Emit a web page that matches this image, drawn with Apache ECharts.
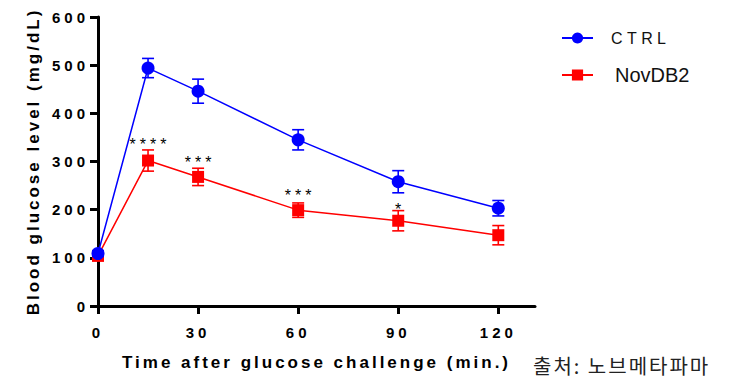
<!DOCTYPE html>
<html>
<head>
<meta charset="utf-8">
<script src="https://cdn.jsdelivr.net/npm/echarts@6/dist/echarts.min.js"></script>
<style>
html,body{margin:0;padding:0;background:#fff;}
#c{width:729px;height:379px;}
text[style*="spA"]{letter-spacing:4px;}
text[style*="spB"]{letter-spacing:3px;}
text[style*="spC"]{letter-spacing:4.4px;}
text[style*="spD"]{letter-spacing:4px;}
text[style*="spE"]{letter-spacing:2px;}
</style>
</head>
<body>
<div id="c"></div>
<script>
// Data
var times = [0, 15, 30, 60, 90, 120];
var ctrlMean = [109, 494, 446, 345, 258, 203];
var ctrlErr  = [6, 20, 25, 21, 23, 16];
var novMean  = [104, 302, 268, 199, 177, 147];
var novErr   = [5, 22, 18, 15, 21, 20];
var xTicks = [0, 30, 60, 90, 120];
var starX = [15, 30, 60, 90];
var starY = [336, 297, 229, 201];
var starText = ['****', '***', '***', '*'];
var seriesNames = ['CTRL', 'NovDB2'];
var xName = 'Time after glucose challenge (min.)';
var yName = 'Blood glucose level (mg/dL)';
var sourceText = '출처: 노브메타파마';

function pairs(xs, ys) { return xs.map(function (x, i) { return [x, ys[i]]; }); }
function errData(xs, m, e) { return xs.map(function (x, i) { return [x, m[i] - e[i], m[i] + e[i]]; }); }

function errRender(color) {
  return function (params, api) {
    var x = api.value(0);
    var lo = api.coord([x, api.value(1)]);
    var hi = api.coord([x, api.value(2)]);
    var hw = 6;
    var st = { stroke: color, lineWidth: 1.6 };
    return {
      type: 'group',
      children: [
        { type: 'line', shape: { x1: lo[0], y1: lo[1], x2: hi[0], y2: hi[1] }, style: st },
        { type: 'line', shape: { x1: lo[0] - hw, y1: lo[1], x2: lo[0] + hw, y2: lo[1] }, style: st },
        { type: 'line', shape: { x1: hi[0] - hw, y1: hi[1], x2: hi[0] + hw, y2: hi[1] }, style: st }
      ]
    };
  };
}

var fTick = "'Liberation Sans', spA, sans-serif";
var fName = "'Liberation Sans', spB, sans-serif";

var chart = echarts.init(document.getElementById('c'), null, { renderer: 'svg' });
chart.setOption({
  animation: false,
  backgroundColor: '#fff',
  grid: { left: 98, right: 194, top: 17, bottom: 73, containLabel: false },
  legend: {
    orient: 'vertical',
    left: 556,
    top: 25,
    itemWidth: 31,
    itemHeight: 14,
    itemGap: 19,
    textStyle: { color: '#111' },
    data: [
      { name: seriesNames[0], textStyle: { fontSize: 16, padding: [0, 0, 0, 13], fontFamily: "'Liberation Sans', spC, sans-serif" } },
      { name: seriesNames[1], textStyle: { fontSize: 20, padding: [0, 0, 0, 17], fontFamily: "'Liberation Sans', sans-serif" } }
    ]
  },
  xAxis: {
    type: 'value', min: 0, max: 131,
    name: xName, nameLocation: 'middle', nameGap: 48,
    nameTextStyle: { fontSize: 17, fontWeight: 'bold', color: '#000', fontFamily: fName },
    axisLine: { lineStyle: { color: '#000', width: 3 } },
    axisTick: { show: true, length: 8, lineStyle: { color: '#000', width: 3 }, customValues: xTicks },
    axisLabel: { customValues: xTicks, margin: 19, fontSize: 15, fontWeight: 'bold', color: '#000', fontFamily: fTick },
    splitLine: { show: false }
  },
  yAxis: {
    type: 'value', min: 0, max: 600, interval: 100,
    name: yName, nameLocation: 'middle', nameGap: 56,
    nameTextStyle: { fontSize: 17, fontWeight: 'bold', color: '#000', fontFamily: fName },
    axisLine: { show: true, lineStyle: { color: '#000', width: 3 } },
    axisTick: { show: true, length: 8, lineStyle: { color: '#000', width: 3 } },
    axisLabel: { margin: 9, fontSize: 15, fontWeight: 'bold', color: '#000', fontFamily: fTick },
    splitLine: { show: false }
  },
  graphic: [{
    type: 'text', left: 533, top: 355,
    style: { text: sourceText, fontSize: 20, fontFamily: "'Noto Sans CJK KR', spE, sans-serif", fill: '#222' }
  }],
  series: [
    {
      name: 'NovDB2 error', type: 'custom', renderItem: errRender('#ff0000'),
      data: errData(times, novMean, novErr), encode: { x: 0, y: [1, 2] }, z: 2, silent: true
    },
    {
      name: seriesNames[1], type: 'line', data: pairs(times, novMean),
      symbol: 'rect', symbolSize: 12, showAllSymbol: true,
      lineStyle: { color: '#ff0000', width: 1.5 }, itemStyle: { color: '#ff0000' }, z: 3
    },
    {
      name: 'CTRL error', type: 'custom', renderItem: errRender('#0000ff'),
      data: errData(times, ctrlMean, ctrlErr), encode: { x: 0, y: [1, 2] }, z: 4, silent: true
    },
    {
      name: seriesNames[0], type: 'line', data: pairs(times, ctrlMean),
      symbol: 'circle', symbolSize: 13, showAllSymbol: true,
      lineStyle: { color: '#0000ff', width: 1.5 }, itemStyle: { color: '#0000ff' }, z: 5
    },
    {
      name: 'stars', type: 'custom', silent: true, z: 6,
      data: starX.map(function (x, i) { return [x, starY[i], i]; }),
      renderItem: function (params, api) {
        var p = api.coord([api.value(0), api.value(1)]);
        return {
          type: 'text', x: p[0] + 2, y: p[1],
          style: { text: starText[api.value(2)], fontSize: 16, fontFamily: "'Liberation Sans', spD, sans-serif",
                   fill: '#000', align: 'center', verticalAlign: 'middle' }
        };
      }
    }
  ]
});
</script>
</body>
</html>
